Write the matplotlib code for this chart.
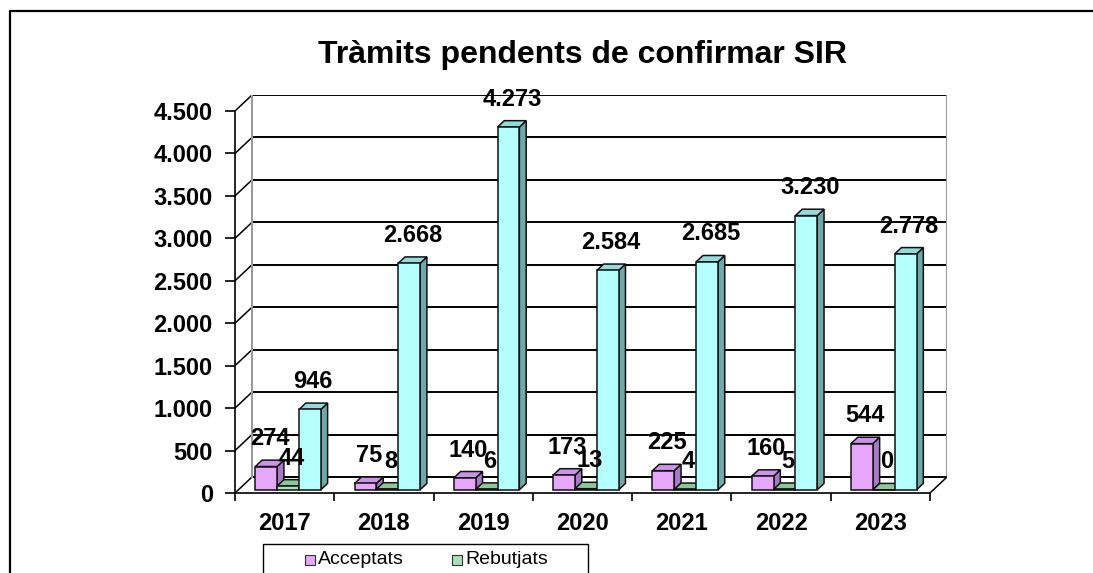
import numpy as np
import matplotlib
matplotlib.use("Agg")
import matplotlib.pyplot as plt
from matplotlib.patches import Polygon, Rectangle
from matplotlib.lines import Line2D

plt.rcParams['font.family'] = ['Liberation Sans', 'DejaVu Sans']

# --- data ---
years = ['2017', '2018', '2019', '2020', '2021', '2022', '2023']
acceptats = [274, 75, 140, 173, 225, 160, 544]
rebutjats = [44, 8, 6, 13, 4, 5, 0]
total = [946, 2668, 4273, 2584, 2685, 3230, 2778]
y_ticks = [0, 500, 1000, 1500, 2000, 2500, 3000, 3500, 4000, 4500]

series = [
    # (values, front, side, top)
    (acceptats, '#E6A6FA', '#A77BC4', '#CC94E6'),
    (rebutjats, '#A8E0B8', '#72A882', '#8CC79C'),
    (total, '#B5FFFF', '#6FA8A8', '#96DADA'),
]

W, H = 1093, 573
fig = plt.figure(figsize=(W / 100, H / 100), dpi=100)

# axes span the front plane plus the 3D depth on the right/top
left_px, right_px, bottom_px, top_px = 235, 947, 493, 95
ax = fig.add_axes([left_px / W, (H - bottom_px) / H,
                   (right_px - left_px) / W, (bottom_px - top_px) / H])

n = len(years)
ux = (930 - 235) / n            # pixels per category
uy = (493 - 111) / 4500         # pixels per unit value
DX = 17 / ux                    # depth offset in x data units
DY = 16 / uy                    # depth offset in y data units
ymax = y_ticks[-1]

ax.set_xlim(-0.5, n - 0.5 + DX)
ax.set_ylim(0, ymax + DY)
ax.patch.set_alpha(0)

# walls: back wall gridlines, left wall diagonals
for v in y_ticks:
    ax.plot([-0.5 + DX, n - 0.5 + DX], [v + DY, v + DY], color='black', lw=1.4, zorder=1)
    ax.plot([-0.5, -0.5 + DX], [v, v + DY], color='black', lw=1.1, zorder=1)
ax.plot([-0.5 + DX, -0.5 + DX], [DY, ymax + DY], color='#9a9a9a', lw=1.5, zorder=1)
ax.plot([n - 0.5 + DX, n - 0.5 + DX], [DY, ymax + DY], color='#9a9a9a', lw=1.5, zorder=1)
# floor right edge
ax.plot([n - 0.5, n - 0.5 + DX], [0, DY], color='black', lw=1.1, zorder=1)

# 3D bars
bw = 0.22
f0, fd = 0.2, 0.4
offsets = [-bw, 0, bw]
z = 3
for i in range(n):
    for (vals, c_front, c_side, c_top), off in zip(series, offsets):
        v = vals[i]
        x0 = i + off - bw / 2 + f0 * DX
        y0 = f0 * DY
        ddx, ddy = fd * DX, fd * DY
        front = [(x0, y0), (x0 + bw, y0), (x0 + bw, y0 + v), (x0, y0 + v)]
        side = [(x0 + bw, y0), (x0 + bw + ddx, y0 + ddy),
                (x0 + bw + ddx, y0 + v + ddy), (x0 + bw, y0 + v)]
        top = [(x0, y0 + v), (x0 + bw, y0 + v),
               (x0 + bw + ddx, y0 + v + ddy), (x0 + ddx, y0 + v + ddy)]
        for pts, col in ((side, c_side), (top, c_top), (front, c_front)):
            ax.add_patch(Polygon(pts, closed=True, facecolor=col, edgecolor='#111111',
                                 lw=1.1, zorder=z))
        z += 0.01
        label = f"{v:,}".replace(',', '.')
        ax.annotate(label, (x0 + bw / 2 + ddx / 2, y0 + v + ddy),
                    xytext=(0, 10), textcoords='offset pixels',
                    ha='center', va='bottom', fontsize=17, fontweight='bold',
                    color='black', zorder=10, annotation_clip=False)

# axes spines and ticks
for s in ('top', 'right'):
    ax.spines[s].set_visible(False)
ax.spines['left'].set_bounds(0, ymax)
ax.spines['bottom'].set_bounds(-0.5, n - 0.5)
ax.spines['left'].set_linewidth(1.2)
ax.spines['bottom'].set_linewidth(1.2)

ax.set_yticks(y_ticks)
ax.set_yticklabels([f"{v:,}".replace(',', '.') for v in y_ticks],
                   fontsize=17, fontweight='bold')
ax.tick_params(axis='y', direction='out', length=7, width=1.2, pad=9)

ax.set_xticks(np.arange(n + 1) - 0.5)
ax.set_xticklabels([])
ax.set_xticks(np.arange(n), minor=True)
ax.set_xticklabels(years, minor=True, fontsize=17, fontweight='bold')
ax.tick_params(axis='x', which='major', direction='out', length=6, width=1.2)
ax.tick_params(axis='x', which='minor', length=0, pad=14)

# title
fig.text(582 / W, 1 - 55 / H, 'Tràmits pendents de confirmar SIR',
         ha='center', va='center', fontsize=23, fontweight='bold')

# outer chart border (cut by the image edges)
fig.add_artist(Line2D([10 / W, 10 / W, 1.0], [0, 1 - 11 / H, 1 - 11 / H],
                      transform=fig.transFigure, color='black', lw=1.6))

# legend box (partly cut off at the bottom)
fig.add_artist(Rectangle((263 / W, -0.02), (588 - 263) / W, (0.02 + 1 - 544 / H),
                         transform=fig.transFigure, facecolor='white',
                         edgecolor='black', lw=1.0))
for (name, col, x_sq) in (('Acceptats', series[0][1], 305), ('Rebutjats', series[1][1], 452)):
    fig.add_artist(Rectangle((x_sq / W, 1 - 565 / H), 10 / W, 10 / H,
                             transform=fig.transFigure, facecolor=col,
                             edgecolor='#333333', lw=0.8))
    fig.text((x_sq + 13) / W, 1 - 559 / H, name, ha='left', va='center', fontsize=14)

fig.savefig('out.png', dpi=100)
